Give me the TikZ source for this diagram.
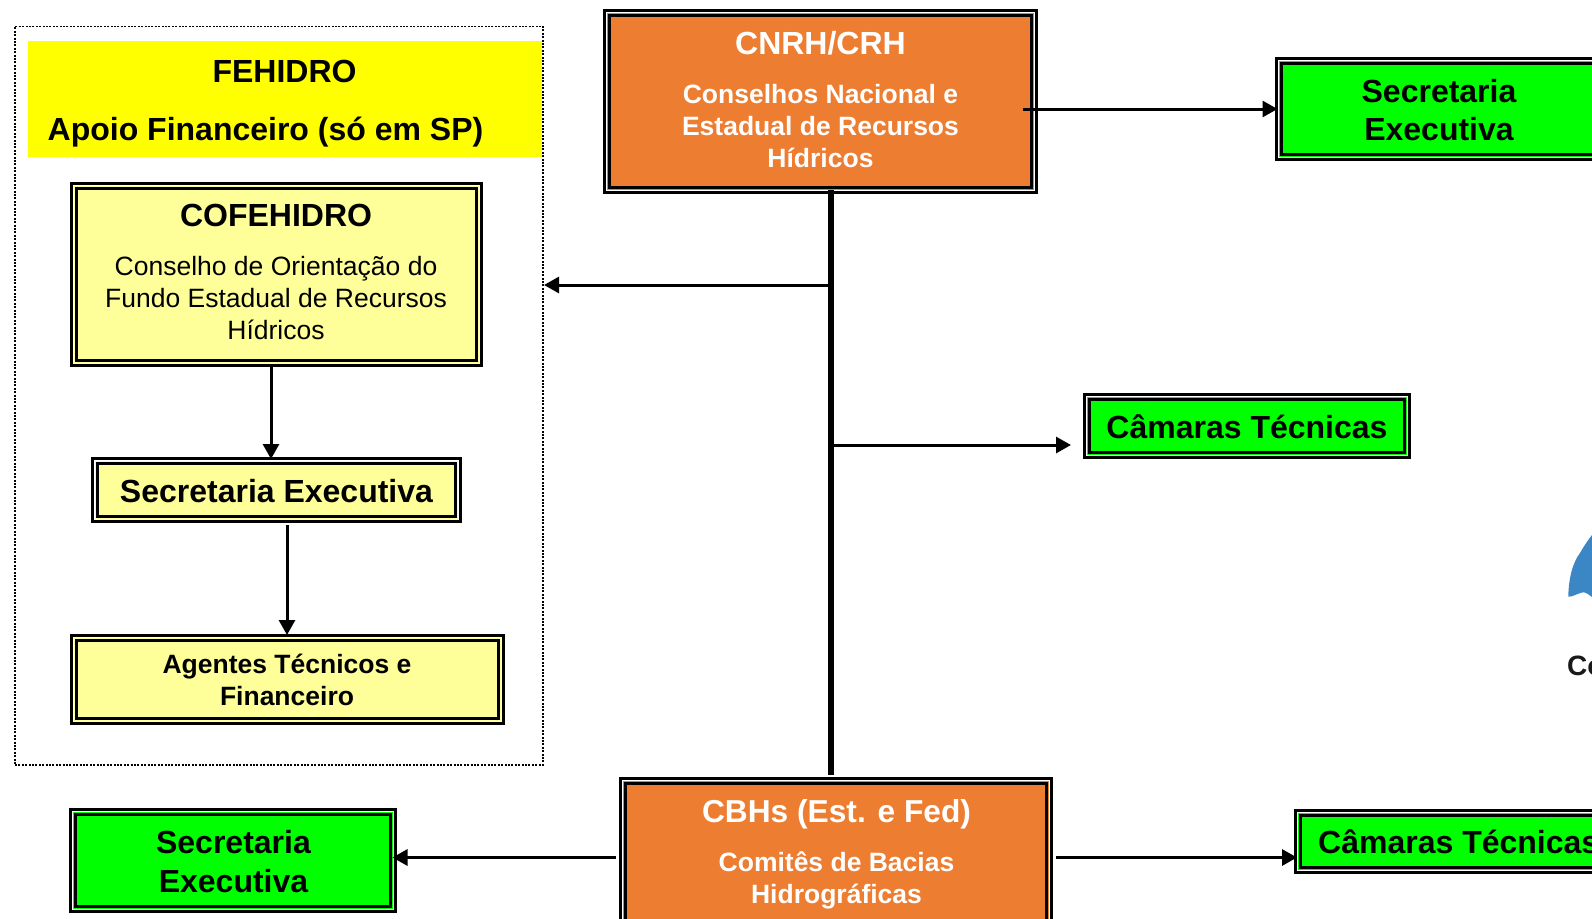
\documentclass[tikz,border=0pt]{standalone}
\usepackage{fontspec}
\setmainfont{Liberation Sans}
\usetikzlibrary{arrows.meta,calc}
\definecolor{cOrange}{HTML}{ED7D31}
\definecolor{cGreen}{HTML}{00FF00}
\definecolor{cPale}{HTML}{FFFF99}
\definecolor{cYellow}{HTML}{FFFF00}
\definecolor{cBlue}{HTML}{3B86C4}
\tikzset{
  dbox/.style={rectangle,fill=black,draw=none,inner sep=0pt,outer sep=0pt,anchor=north west},
  big/.style={inner sep=0pt,align=center,anchor=center,font=\bfseries\fontsize{32pt}{38pt}\selectfont},
  small/.style={inner sep=0pt,align=center,anchor=center,font=\bfseries\fontsize{26.5pt}{32pt}\selectfont},
  plain/.style={inner sep=0pt,align=center,anchor=center,font=\fontsize{26.5pt}{32pt}\selectfont},
  arr/.style={line width=3pt,-{Triangle[length=15pt,width=16pt]}},
  spine/.style={line width=5.8pt}
}
% name, x1,y1,x2,y2 (outer extents), colour
\newcommand{\dblbox}[6]{\pgfmathsetmacro{\wa}{#4-#2}\pgfmathsetmacro{\ha}{#5-#3}%
  \node[dbox,minimum width=\wa pt,minimum height=\ha pt] (#1) at (#2,#3) {};
  \fill[white] (#2+3,#3+3) rectangle (#4-3,#5-3);
  \fill[#6] (#2+3.9,#3+3.9) rectangle (#4-3.9,#5-3.9);
  \fill[black] (#2+5,#3+5) rectangle (#4-5,#5-5);
  \fill[#6] (#2+8,#3+8) rectangle (#4-8,#5-8);}
\begin{document}
\begin{tikzpicture}[x=1pt,y=-1pt]
\useasboundingbox (0,0) rectangle (1592,918);
\clip (0,0) rectangle (1592,918);
\fill[white] (0,0) rectangle (1592,918);
% FEHIDRO
\node[rectangle,draw=black,line width=1.8pt,dash pattern=on 2pt off 1.4pt,minimum width=528pt,minimum height=738.2pt,inner sep=0pt,outer sep=0pt,anchor=north west] (frame) at (15,26.5) {};
\node[rectangle,fill=cYellow,minimum width=514pt,minimum height=115.7pt,inner sep=0pt,anchor=north west] (band) at (28,41) {};
\node[big] (t1) at (284.5,71) {FEHIDRO};
\node[big] (t2) at (265.5,132) {Apoio Financeiro (só em SP)};
% boxes
\dblbox{cof}{70}{182}{483}{367}{cPale}
\node[big] (cofT) at (276,215) {COFEHIDRO};
\node[plain] (cofS) at (276,298) {Conselho de Orientação do\\Fundo Estadual de Recursos\\Hídricos};
\dblbox{sec}{91}{457}{462}{523}{cPale}
\node[big] (secT) at (276.5,491) {Secretaria Executiva};
\dblbox{age}{70}{634}{505}{725}{cPale}
\node[small] (ageT) at (287,680) {Agentes Técnicos e\\Financeiro};
\dblbox{cnrh}{603}{9}{1038}{194}{cOrange}
\node[big,text=white] (cnrhT) at (820.5,43) {CNRH/CRH};
\node[small,text=white] (cnrhS) at (820.5,126) {Conselhos Nacional e\\Estadual de Recursos\\Hídricos};
\dblbox{secR}{1275}{57}{1700}{161}{cGreen}
\node[big] (secRT) at (1439,110) {Secretaria\\Executiva};
\dblbox{camM}{1083}{393}{1411}{459}{cGreen}
\node[big] (camMT) at (1247,427) {Câmaras Técnicas};
\dblbox{cbh}{619}{777}{1053}{1000}{cOrange}
\node[big,text=white,font=\bfseries\fontsize{31.7pt}{38pt}\selectfont] (cbhT) at (836.5,814) {CBHs (Est. e Fed)};
\node[small,text=white] (cbhS) at (836.5,880) {Comitês de Bacias\\Hidrográficas};
\dblbox{secL}{69}{808}{397}{913}{cGreen}
\node[big,font=\bfseries\fontsize{32pt}{39.5pt}\selectfont] (secLT) at (233.5,861.5) {Secretaria\\Executiva};
\dblbox{camR}{1294}{809}{1700}{874}{cGreen}
\node[big,anchor=west] (camRT) at (1318,842) {Câmaras Técnicas};
% logo fragment
\fill[cBlue] (1568.3,596.7) .. controls (1568.5,578) and (1573,562) .. (1580,553) .. controls (1584,546) and (1588,540) .. (1592,535) -- (1592,597) .. controls (1589,595) and (1586,592) .. (1583,592.3) .. controls (1578,593) and (1573,597) .. cycle;
\node[inner sep=0pt,anchor=base west,font=\bfseries\fontsize{28pt}{32pt}\selectfont,text=black!90] (logoT) at (1567,675) {Co};
% connectors
\coordinate (spineTop) at (831,190);
\coordinate (spineBot) at (831,775);
\coordinate (jL) at (831,285);
\coordinate (jR) at (834,445);
\coordinate (frameIn) at (544,285);
\coordinate (camIn) at (1071,445);
\coordinate (cnrhOut) at (1022.5,109);
\coordinate (cbhL) at (616,857.5);
\coordinate (cbhR) at (1056,857.5);
\coordinate (d1) at (271,0);
\coordinate (d2) at (287,525);
\draw[spine] (spineTop) -- (spineBot);
\draw[arr] (jL) -- (frameIn);
\draw[arr] (jR) -- (camIn);
\draw[arr,shorten >=-2.5pt] (cnrhOut) -- (secR.west |- cnrhOut);
\draw[arr,shorten >=-4.5pt] (cbhL) -- (secL.east |- cbhL);
\draw[arr,shorten >=-3pt] (cbhR) -- (camR.west |- cbhR);
\draw[arr,shorten >=-2pt] (d1 |- cof.south) -- (d1 |- sec.north);
\draw[arr,shorten >=-1pt] (d2) -- (d2 |- age.north);
\end{tikzpicture}
\end{document}
